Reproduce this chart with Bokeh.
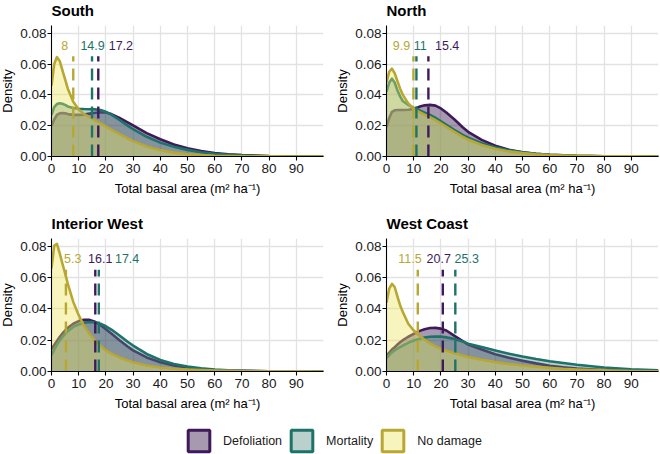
from bokeh.plotting import figure
from bokeh.layouts import column, row
from bokeh.models import (ColumnDataSource, Range1d, FixedTicker, NumeralTickFormatter,
                          Legend, LegendItem)
from bokeh.core.properties import value
from bokeh.embed import file_html
from bokeh.resources import INLINE

REGIONS = ["South", "North", "Interior West", "West Coast"]
GROUPS = ["Defoliation", "Mortality", "No damage"]
X_TICKS = [0, 10, 20, 30, 40, 50, 60, 70, 80, 90]
Y_TICKS = [0.0, 0.02, 0.04, 0.06, 0.08]

# basal area grid (m2/ha)
X = [0, 1, 2, 3, 4, 5, 6, 8, 10, 12, 14, 16, 18, 20, 22, 25, 28, 30, 35, 40,
     45, 50, 55, 60, 65, 70, 80, 90, 100]

south_defoliation = [0.020, 0.024, 0.027, 0.028, 0.0282, 0.028, 0.0275, 0.027, 0.027, 0.0272,
                     0.0278, 0.0284, 0.0287, 0.0285, 0.0275, 0.025, 0.0222, 0.0202, 0.0152, 0.0112,
                     0.0078, 0.0054, 0.0036, 0.0023, 0.0015, 0.0009, 0.0003, 0.0001, 0.0]
south_mortality = [0.027, 0.032, 0.034, 0.0345, 0.0342, 0.0335, 0.0325, 0.0315, 0.031, 0.0308,
                   0.0307, 0.0306, 0.0302, 0.029, 0.0272, 0.0237, 0.0200, 0.0177, 0.0128, 0.0090,
                   0.0063, 0.0043, 0.0028, 0.0018, 0.0011, 0.0007, 0.0002, 0.0001, 0.0]
south_nodamage = [0.046, 0.060, 0.0645, 0.062, 0.056, 0.050, 0.044, 0.0355, 0.0305, 0.0275,
                  0.0255, 0.0235, 0.0215, 0.0195, 0.0175, 0.0145, 0.0117, 0.0100, 0.0065, 0.0040,
                  0.0025, 0.0015, 0.0009, 0.0005, 0.0003, 0.0002, 0.0001, 0.0, 0.0]

north_defoliation = [0.019, 0.025, 0.029, 0.030, 0.0302, 0.0302, 0.0302, 0.0303, 0.0308, 0.0322,
                     0.0332, 0.0335, 0.0330, 0.0312, 0.0285, 0.0240, 0.0190, 0.0160, 0.0108, 0.0070,
                     0.0044, 0.0028, 0.0018, 0.0011, 0.0007, 0.0004, 0.0002, 0.0001, 0.0]
north_mortality = [0.042, 0.048, 0.0505, 0.048, 0.043, 0.039, 0.036, 0.0335, 0.0315, 0.0300,
                   0.0285, 0.0270, 0.0250, 0.0228, 0.0205, 0.0172, 0.0140, 0.0122, 0.0086, 0.0060,
                   0.0041, 0.0028, 0.0018, 0.0011, 0.0007, 0.0004, 0.0002, 0.0001, 0.0]
north_nodamage = [0.048, 0.055, 0.057, 0.054, 0.049, 0.044, 0.040, 0.0345, 0.031, 0.0290,
                  0.0272, 0.0255, 0.0236, 0.0215, 0.0193, 0.0160, 0.0128, 0.0110, 0.0075, 0.0050,
                  0.0033, 0.0022, 0.0014, 0.0009, 0.0006, 0.0004, 0.0002, 0.0001, 0.0]

iw_defoliation = [0.0144, 0.017, 0.0195, 0.022, 0.0243, 0.0262, 0.0280, 0.0305, 0.0322, 0.0331,
                  0.0330, 0.0318, 0.0297, 0.0270, 0.0243, 0.0200, 0.0160, 0.0135, 0.0090, 0.0059,
                  0.0038, 0.0025, 0.0016, 0.0010, 0.0006, 0.0004, 0.0001, 0.0, 0.0]
iw_mortality = [0.0105, 0.014, 0.017, 0.0198, 0.022, 0.024, 0.0258, 0.0285, 0.0300, 0.0311,
                0.0316, 0.0314, 0.0305, 0.0289, 0.0268, 0.0230, 0.0190, 0.0166, 0.0112, 0.0074,
                0.0048, 0.0032, 0.0021, 0.0013, 0.0008, 0.0005, 0.0002, 0.0001, 0.0]
iw_nodamage = [0.066, 0.0805, 0.0815, 0.0757, 0.069, 0.0628, 0.056, 0.0445, 0.036, 0.029,
               0.024, 0.0197, 0.0163, 0.0135, 0.0114, 0.0090, 0.0070, 0.0059, 0.0038, 0.0026,
               0.0018, 0.0013, 0.0009, 0.0006, 0.0004, 0.0003, 0.0001, 0.0001, 0.0]

wc_defoliation = [0.0101, 0.012, 0.014, 0.0155, 0.0172, 0.0187, 0.0200, 0.0222, 0.0240, 0.0258,
                  0.0270, 0.0278, 0.0279, 0.0274, 0.0262, 0.0228, 0.0195, 0.0172, 0.0140, 0.0110,
                  0.0088, 0.0069, 0.0052, 0.0037, 0.0027, 0.0019, 0.0009, 0.0004, 0.0002]
wc_mortality = [0.0085, 0.0105, 0.0122, 0.0135, 0.0146, 0.0156, 0.0166, 0.0183, 0.0198, 0.0208,
                0.0217, 0.0222, 0.0224, 0.0223, 0.0218, 0.0208, 0.0192, 0.0178, 0.0156, 0.0134,
                0.0114, 0.0096, 0.0080, 0.0066, 0.0054, 0.0043, 0.0026, 0.0014, 0.0007]
wc_nodamage = [0.044, 0.053, 0.056, 0.054, 0.048, 0.0424, 0.038, 0.0305, 0.0262, 0.0230,
               0.0203, 0.0180, 0.0160, 0.0145, 0.0133, 0.0117, 0.0102, 0.0093, 0.0075, 0.0060,
               0.0048, 0.0038, 0.0030, 0.0023, 0.0017, 0.0013, 0.0007, 0.0003, 0.0001]

# medians per group (Defoliation, Mortality, No damage) and their (repelled) label positions
south_medians = [17.2, 14.9, 8.0]
south_label_x = [25.5, 15.1, 4.9]
north_medians = [15.4, 11.0, 9.9]
north_label_x = [22.3, 12.4, 5.5]
iw_medians = [16.1, 17.4, 5.3]
iw_label_x = [17.9, 27.8, 7.8]
wc_medians = [20.7, 25.3, 11.5]
wc_label_x = [19.2, 29.5, 8.6]

DENS = {
    "South": [south_defoliation, south_mortality, south_nodamage],
    "North": [north_defoliation, north_mortality, north_nodamage],
    "Interior West": [iw_defoliation, iw_mortality, iw_nodamage],
    "West Coast": [wc_defoliation, wc_mortality, wc_nodamage],
}
MEDIANS = {"South": south_medians, "North": north_medians,
           "Interior West": iw_medians, "West Coast": wc_medians}
LABEL_X = {"South": south_label_x, "North": north_label_x,
           "Interior West": iw_label_x, "West Coast": wc_label_x}

LINE_COLORS = ["#3E1A5B", "#1D7269", "#B8A833"]
FILL_COLORS = ["#230037", "#508982", "#EDE35C"]
FILL_ALPHA = 0.4
LABEL_Y = 0.072
VLINE_TOP = 0.065
FONT = "Liberation Sans"


def make_panel(i, region):
    left = (i % 2 == 0)
    top = (i < 2)
    p = figure(frame_width=272, frame_height=131 if top else 133,
               x_range=Range1d(0, 100), y_range=Range1d(0, 0.085),
               output_backend="svg", toolbar_location=None,
               min_border_left=48 if left else 55, min_border_right=8 if left else 1,
               min_border_top=31, min_border_bottom=50 if top else 48)
    p.title.text = region
    p.title.text_font = FONT
    p.title.text_font_size = "15px"
    p.title.text_font_style = "bold"
    p.title.text_color = "#000000"
    p.title.align = "left"
    p.title.offset = 0
    p.title.standoff = 13
    p.outline_line_color = None
    p.background_fill_color = "white"
    p.border_fill_color = "white"

    for g in range(3):
        d = DENS[region][g]
        src = ColumnDataSource(dict(x=X, y=d))
        p.varea(x="x", y1=0, y2="y", source=src, fill_color=FILL_COLORS[g], fill_alpha=FILL_ALPHA)
        p.line(x="x", y="y", source=src, line_color=LINE_COLORS[g], line_width=2.6,
               line_join="round")

    med = MEDIANS[region]
    vsrc = ColumnDataSource(dict(x=med, y0=[0] * 3, y1=[VLINE_TOP] * 3, c=LINE_COLORS))
    p.segment(x0="x", y0="y0", x1="x", y1="y1", source=vsrc, line_color="c",
              line_width=2.4, line_dash="12 7")
    tsrc = ColumnDataSource(dict(x=LABEL_X[region], y=[LABEL_Y] * 3,
                                 t=[f"{m:g}" for m in med], c=LINE_COLORS))
    p.text(x="x", y="y", text="t", source=tsrc, text_color="c",
           text_font=value(FONT), text_font_size="12.5px",
           text_align="center", text_baseline="middle")

    p.xaxis.ticker = FixedTicker(ticks=X_TICKS)
    p.yaxis.ticker = FixedTicker(ticks=Y_TICKS)
    p.yaxis.formatter = NumeralTickFormatter(format="0.00")
    p.xaxis.axis_label = "Total basal area (m\u00b2 ha\u207b\u00b9)"
    p.yaxis.axis_label = "Density"
    for ax in p.axis:
        ax.axis_line_color = "black"
        ax.axis_line_width = 1.1
        ax.major_tick_line_color = "black"
        ax.major_tick_line_width = 1.1
        ax.major_tick_out = 4
        ax.major_tick_in = 0
        ax.minor_tick_line_color = None
        ax.major_label_text_font = FONT
        ax.major_label_text_font_size = "13.5px"
        ax.major_label_text_color = "#1a1a1a"
        ax.axis_label_text_font = FONT
        ax.axis_label_text_font_size = "13px"
        ax.axis_label_text_font_style = "normal"
        ax.axis_label_text_color = "#000000"
    p.xaxis.major_label_standoff = 3
    p.xaxis.axis_label_standoff = 5
    p.yaxis.major_label_standoff = 1
    p.yaxis.axis_label_standoff = 2
    p.grid.grid_line_color = "#E2E2E2"
    p.grid.grid_line_width = 1.3
    return p


panels = [make_panel(i, r) for i, r in enumerate(REGIONS)]

lf = figure(width=656, height=36, output_backend="svg", toolbar_location=None,
            x_axis_type=None, y_axis_type=None, min_border=0,
            x_range=Range1d(0, 1), y_range=Range1d(0, 1))
lf.outline_line_color = None
items = []
for g in range(3):
    # legend proxy, kept outside the visible range
    r = lf.rect(x=[5], y=[5], width=1, height=1, fill_color=FILL_COLORS[g], fill_alpha=FILL_ALPHA,
                line_color=LINE_COLORS[g], line_width=3)
    items.append(LegendItem(label=GROUPS[g], renderers=[r]))
leg = Legend(items=items, orientation="horizontal", location=(188, 1),
             glyph_width=27, glyph_height=27, label_standoff=11, spacing=6,
             padding=0, margin=0, border_line_color=None, background_fill_alpha=0,
             label_text_font=FONT, label_text_font_size="12.5px", label_text_color="#1a1a1a")
lf.add_layout(leg)

layout = column(row(panels[0], panels[1]), row(panels[2], panels[3]), lf,
                margin=(-7, 0, -8, -3))

open("out.html", "w").write(file_html(layout, INLINE))
